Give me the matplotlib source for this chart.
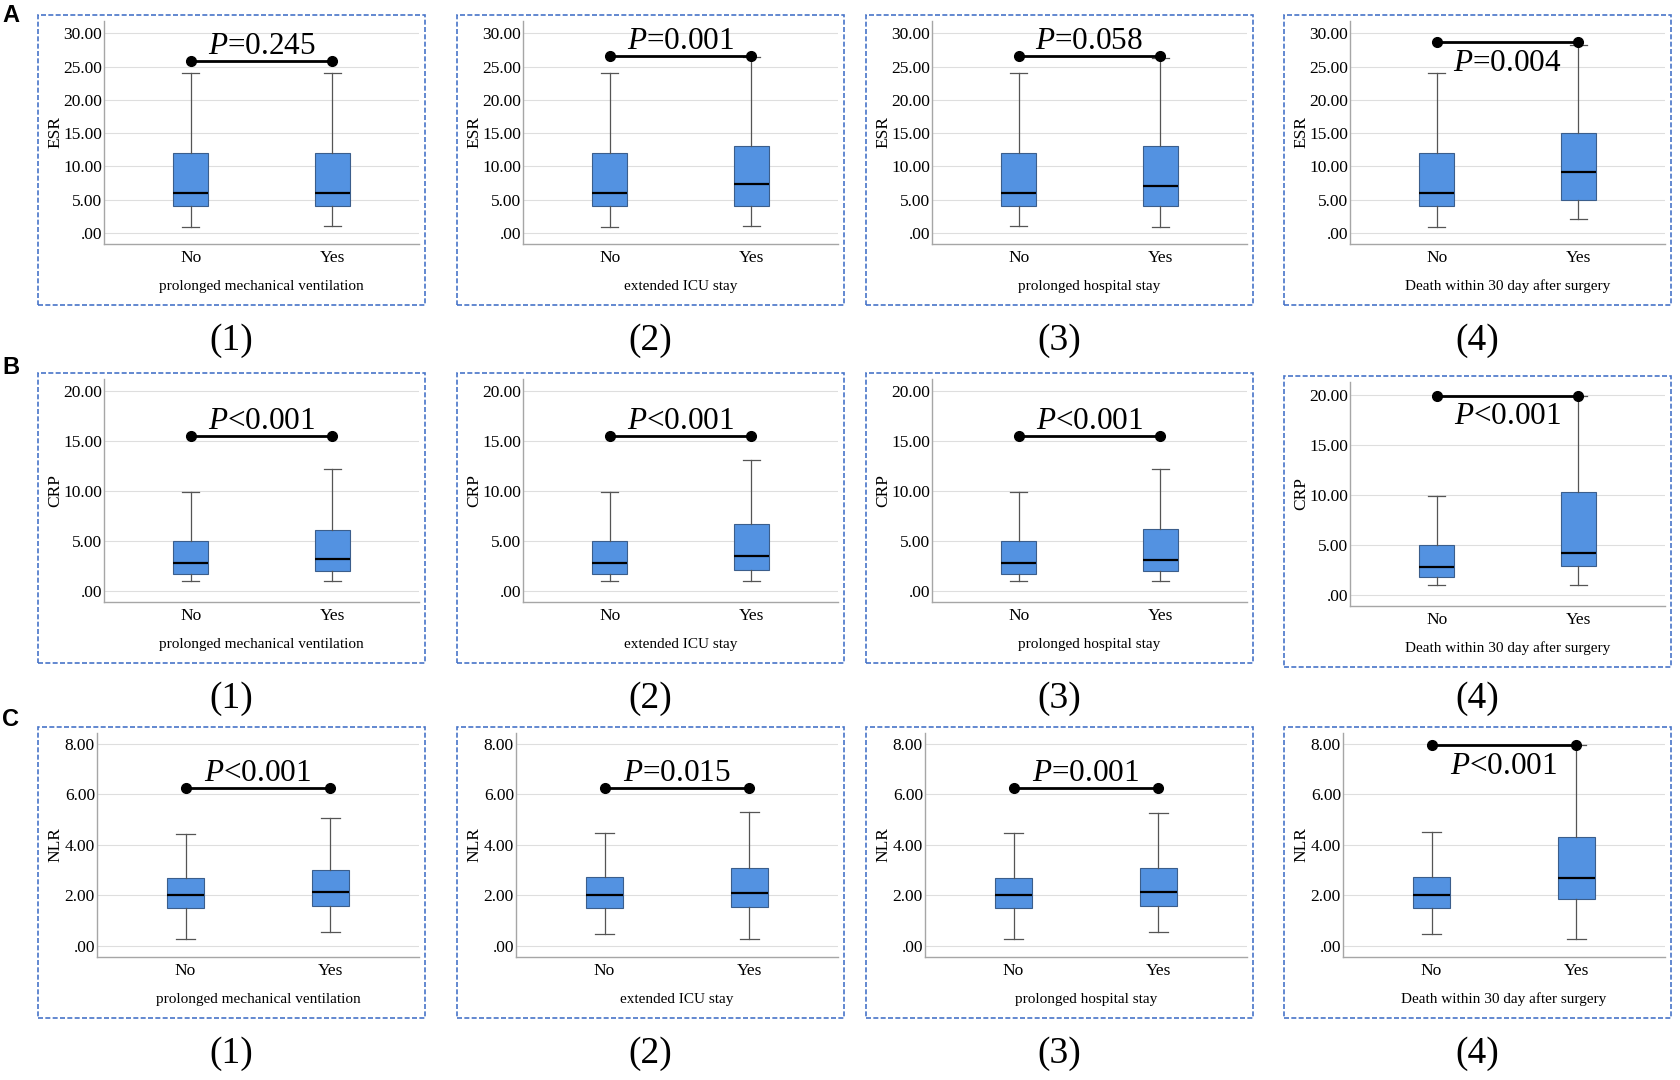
import numpy as np
import matplotlib
matplotlib.use('Agg')
import matplotlib.pyplot as plt
from matplotlib.patches import Rectangle
from matplotlib.ticker import FuncFormatter

# ------------------------------------------------------------
# fonts
# ------------------------------------------------------------
plt.rcParams['font.family'] = ['Liberation Serif', 'DejaVu Serif']
plt.rcParams['mathtext.fontset'] = 'custom'
plt.rcParams['mathtext.rm'] = 'Liberation Serif'
plt.rcParams['mathtext.it'] = 'Liberation Serif:italic'

# ------------------------------------------------------------
# data  (whislo, q1, median, q3, whishi) per panel
# ------------------------------------------------------------
groups = ['No', 'Yes']
outcomes = ['prolonged mechanical ventilation', 'extended ICU stay',
            'prolonged hospital stay', 'Death within 30 day after surgery']

esr_no = [[0.85, 4.0, 6.0, 12.0, 24.0],
          [0.85, 4.0, 6.0, 12.0, 24.0],
          [1.10, 4.0, 6.0, 12.0, 24.0],
          [0.85, 4.0, 6.0, 12.0, 24.0]]
esr_yes = [[1.10, 4.0, 6.0, 12.0, 24.0],
           [1.10, 4.0, 7.3, 13.0, 26.4],
           [0.85, 4.0, 7.1, 13.0, 26.3],
           [2.10, 5.0, 9.1, 15.0, 28.2]]
esr_bar = [25.9, 26.6, 26.6, 28.7]
esr_p = ['$P$=0.245', '$P$=0.001', '$P$=0.058', '$P$=0.004']

crp_no = [[1.03, 1.72, 2.75, 5.0, 9.93],
          [1.03, 1.72, 2.75, 5.0, 9.93],
          [1.03, 1.72, 2.75, 5.0, 9.93],
          [0.96, 1.76, 2.79, 5.0, 9.85]]
crp_yes = [[1.03, 1.99, 3.20, 6.10, 12.25],
           [1.03, 2.12, 3.48, 6.72, 13.15],
           [1.03, 2.00, 3.10, 6.20, 12.20],
           [1.00, 2.85, 4.18, 10.30, 19.90]]
crp_bar = [15.5, 15.5, 15.5, 19.9]
crp_p = ['$P$<0.001', '$P$<0.001', '$P$<0.001', '$P$<0.001']

nlr_no = [[0.28, 1.49, 1.99, 2.66, 4.43],
          [0.46, 1.50, 2.01, 2.70, 4.47],
          [0.28, 1.50, 2.00, 2.67, 4.45],
          [0.46, 1.50, 2.01, 2.72, 4.50]]
nlr_yes = [[0.55, 1.57, 2.13, 2.99, 5.07],
           [0.28, 1.54, 2.10, 3.07, 5.28],
           [0.55, 1.57, 2.14, 3.08, 5.26],
           [0.28, 1.86, 2.68, 4.29, 7.93]]
nlr_bar = [6.26, 6.26, 6.26, 7.96]
nlr_p = ['$P$<0.001', '$P$=0.015', '$P$=0.001', '$P$<0.001']

esr_ticks = [0, 5, 10, 15, 20, 25, 30]
crp_ticks = [0, 5, 10, 15, 20]
nlr_ticks = [0, 2, 4, 6, 8]

# ------------------------------------------------------------
# layout (pixels of a 1681 x 1080 canvas)
# ------------------------------------------------------------
W, H = 1681, 1080
COL_X0 = [38, 457, 866, 1284]
PANEL_W = 387

rows = [
    dict(name='ESR', no=esr_no, yes=esr_yes, bar=esr_bar, p=esr_p, ticks=esr_ticks,
         ylim=(-1.65, 31.85), top=[15, 15, 15, 15], spine=[244, 244, 244, 244],
         left_off=66, letter='A', letter_y=16, num_y=341),
    dict(name='CRP', no=crp_no, yes=crp_yes, bar=crp_bar, p=crp_p, ticks=crp_ticks,
         ylim=(-1.12, 21.25), top=[373, 373, 373, 376], spine=[602, 602, 602, 606],
         left_off=66, letter='B', letter_y=368, num_y=699),
    dict(name='NLR', no=nlr_no, yes=nlr_yes, bar=nlr_bar, p=nlr_p, ticks=nlr_ticks,
         ylim=(-0.45, 8.42), top=[727, 727, 727, 727], spine=[957, 957, 957, 957],
         left_off=59, letter='C', letter_y=720, num_y=1054),
]

BOX = '#5392E1'
BOX_EDGE = '#3B5E8C'
WHISK = '#555555'
BORDER = '#4874C8'


def spss_fmt(v, pos):
    s = f'{v:.2f}'
    if s.startswith('0'):
        s = s[1:]
    return s


def stats(vals):
    lo, q1, med, q3, hi = vals
    return dict(whislo=lo, q1=q1, med=med, q3=q3, whishi=hi, fliers=[])


fig = plt.figure(figsize=(W / 100, H / 100), dpi=100)

for row in rows:
    for j in range(4):
        x0 = COL_X0[j]
        top = row['top'][j]
        spine = row['spine'][j]
        ax_l = x0 + row['left_off']
        ax_r = x0 + PANEL_W - 6
        ax_t = top + 6
        ax_b = spine
        ax = fig.add_axes([ax_l / W, 1 - ax_b / H, (ax_r - ax_l) / W, (ax_b - ax_t) / H])

        ax.bxp([stats(row['no'][j]), stats(row['yes'][j])], positions=[1, 2],
               widths=0.25, capwidths=0.125, patch_artist=True, showfliers=False,
               manage_ticks=False,
               boxprops=dict(facecolor=BOX, edgecolor=BOX_EDGE, linewidth=0.8),
               whiskerprops=dict(color=WHISK, linewidth=0.9),
               capprops=dict(color=WHISK, linewidth=0.9),
               medianprops=dict(color='black', linewidth=1.6))

        # significance bar
        b = row['bar'][j]
        ax.plot([1, 2], [b, b], color='black', lw=2.0, marker='o', ms=7,
                zorder=6, clip_on=False)
        if j < 3:
            ax.annotate(row['p'][j], xy=(1.5, b), xytext=(0, 5), textcoords='offset points',
                        ha='center', va='baseline', fontsize=22.5)
        else:
            ax.annotate(row['p'][j], xy=(1.5, b), xytext=(0, -5), textcoords='offset points',
                        ha='center', va='top', fontsize=22.5)

        ax.set_xlim(0.389, 2.611)
        ax.set_ylim(*row['ylim'])
        ax.set_xticks([1, 2])
        ax.set_xticklabels(groups)
        ax.set_yticks(row['ticks'])
        ax.yaxis.set_major_formatter(FuncFormatter(spss_fmt))
        ax.tick_params(axis='both', length=0, labelsize=12.5)
        ax.tick_params(axis='y', pad=1.5)
        ax.tick_params(axis='x', pad=4.5)
        ax.yaxis.grid(True, color='#DEDEDE', lw=0.8)
        ax.set_axisbelow(True)
        for s in ['top', 'right']:
            ax.spines[s].set_visible(False)
        for s in ['left', 'bottom']:
            ax.spines[s].set_color('#A6A6A6')
            ax.spines[s].set_linewidth(1.0)

        ax.set_ylabel(row['name'], fontsize=12.5, va='center')
        ax.yaxis.set_label_coords((x0 + 17.5 - ax_l) / (ax_r - ax_l), 0.5)
        ax.set_xlabel(outcomes[j], fontsize=11, va='center')
        ax.xaxis.set_label_coords(0.5, -42.5 / (ax_b - ax_t))

        # dashed panel border
        pb = spine + 60.5
        rect = Rectangle((x0 / W, 1 - pb / H), PANEL_W / W, (pb - top) / H,
                         transform=fig.transFigure, fill=False, edgecolor=BORDER,
                         linewidth=1.2, linestyle=(0, (3, 1.4)))
        fig.add_artist(rect)

        fig.text((x0 + PANEL_W / 2) / W, 1 - row['num_y'] / H, f'({j + 1})',
                 fontsize=27, ha='center', va='center')

    fig.text(11 / W, 1 - row['letter_y'] / H, row['letter'], fontsize=17,
             fontweight='bold', family='Liberation Sans', ha='center', va='center')

fig.savefig('out.png', dpi=100, facecolor='white')
